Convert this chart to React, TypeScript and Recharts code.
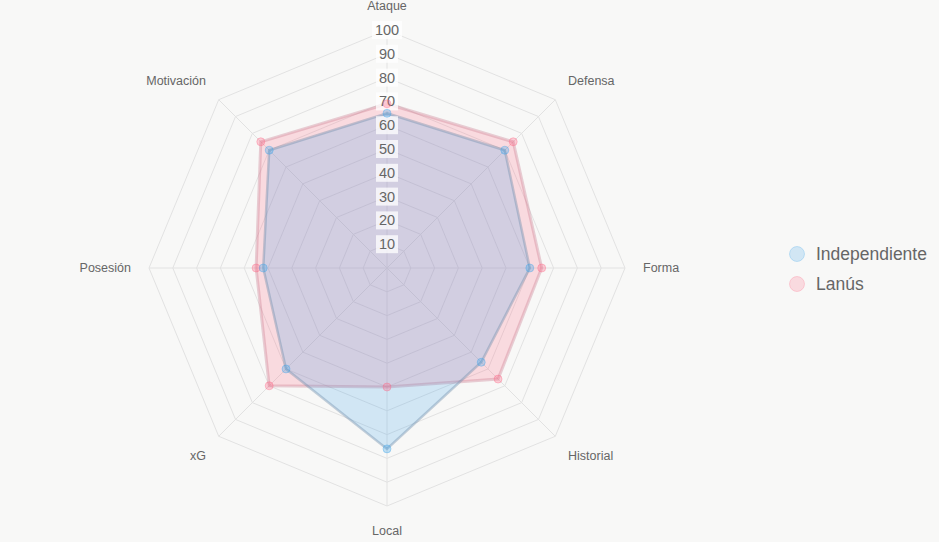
import { Legend, PolarAngleAxis, PolarGrid, PolarRadiusAxis, Radar, RadarChart } from 'recharts';

const categories = ['Ataque', 'Defensa', 'Forma', 'Historial', 'Local', 'xG', 'Posesión', 'Motivación'];
const independiente = [65, 70, 60, 56, 76, 60, 52, 70];
const lanus = [69, 75, 65, 66, 50, 70, 55, 75];
const radiusTicks = [0, 10, 20, 30, 40, 50, 60, 70, 80, 90, 100];

const data = categories.map((c, i) => ({ metric: c, Independiente: independiente[i], Lanus: lanus[i] }));

const BLUE_FILL = 'rgba(54,162,235,0.2)';
const BLUE_LINE = 'rgba(110,140,170,0.4)';
const PINK_FILL = 'rgba(255,99,132,0.2)';
const PINK_LINE = 'rgba(200,120,140,0.35)';

const AngleTick = (props: any) => {
  const { x, y, payload } = props;
  const a = (payload.coordinate * Math.PI) / 180;
  const c = Math.cos(a);
  const s = Math.sin(a);
  const anchor = Math.abs(c) < 0.01 ? 'middle' : c > 0 ? 'start' : 'end';
  let baseline = 'central';
  let dy = 0;
  if (s > 0.01) {
    baseline = 'alphabetic';
    dy = -2.5 * s;
  } else if (s < -0.01) {
    baseline = 'text-before-edge';
  }
  return (
    <text x={x} y={y} dy={dy} textAnchor={anchor} dominantBaseline={baseline} fontSize={12.5} fill="#666"
      fontFamily="'Liberation Sans', Arial, sans-serif">
      {payload.value}
    </text>
  );
};

const RadiusTick = (props: any) => {
  const { x, y, payload } = props;
  if (payload.value === 0) return null;
  const label = String(payload.value);
  const w = label.length * 8 + 6;
  return (
    <g>
      <rect x={x - w / 2} y={y - 9} width={w} height={18} fill="rgba(255,255,255,0.75)" />
      <text x={x} y={y} textAnchor="middle" dominantBaseline="central" fontSize={14.5} fill="#666"
        fontFamily="'Liberation Sans', Arial, sans-serif">
        {label}
      </text>
    </g>
  );
};

const LegendContent = () => {
  const items = [
    { name: 'Independiente', fill: BLUE_FILL, stroke: 'rgba(54,162,235,0.25)' },
    { name: 'Lanús', fill: PINK_FILL, stroke: 'rgba(255,99,132,0.25)' },
  ];
  return (
    <div style={{ fontFamily: "'Liberation Sans', Arial, sans-serif" }}>
      {items.map((it) => (
        <div key={it.name} style={{ display: 'flex', alignItems: 'center', height: 30 }}>
          <svg width={18} height={18} style={{ marginRight: 10 }}>
            <circle cx={9} cy={9} r={7.5} fill={it.fill} stroke={it.stroke} strokeWidth={1} />
          </svg>
          <span style={{ fontSize: 17.5, color: '#666' }}>{it.name}</span>
        </div>
      ))}
    </div>
  );
};

export default function App() {
  return (
    <div style={{ position: 'absolute', left: 0, top: 0, width: 939, height: 542, background: '#f8f8f7' }}>
      <RadarChart width={939} height={542} data={data} cx={387} cy={268} outerRadius={238}
        margin={{ top: 0, right: 0, bottom: 0, left: 0 }}>
        <PolarGrid gridType="polygon" stroke="#e2e2e2" polarRadius={radiusTicks.map((t) => t * 2.38)} />
        <PolarAngleAxis dataKey="metric" tick={<AngleTick />} tickLine={false} axisLine={false} tickSize={18} />
        <PolarRadiusAxis angle={90} domain={[0, 100]} ticks={radiusTicks as any} tickCount={11}
          axisLine={false} tick={<RadiusTick />} />
        {/* Chart.js paints the last dataset first, so Lanús sits underneath */}
        <Radar name="Lanús" dataKey="Lanus" stroke={PINK_LINE} strokeWidth={3} fill={PINK_FILL}
          fillOpacity={1} isAnimationActive={false}
          dot={{ r: 4, fill: 'rgba(255,99,132,0.3)', stroke: 'rgba(255,99,132,0.35)', strokeWidth: 1 } as any} />
        <Radar name="Independiente" dataKey="Independiente" stroke={BLUE_LINE} strokeWidth={2.5} fill={BLUE_FILL}
          fillOpacity={1} isAnimationActive={false}
          dot={{ r: 4, fill: 'rgba(54,162,235,0.3)', stroke: 'rgba(54,162,235,0.35)', strokeWidth: 1 } as any} />
        <Legend layout="vertical" align="right" verticalAlign="middle" content={<LegendContent />}
          wrapperStyle={{ left: 788, top: 239, width: 150 }} />
      </RadarChart>
    </div>
  );
}
